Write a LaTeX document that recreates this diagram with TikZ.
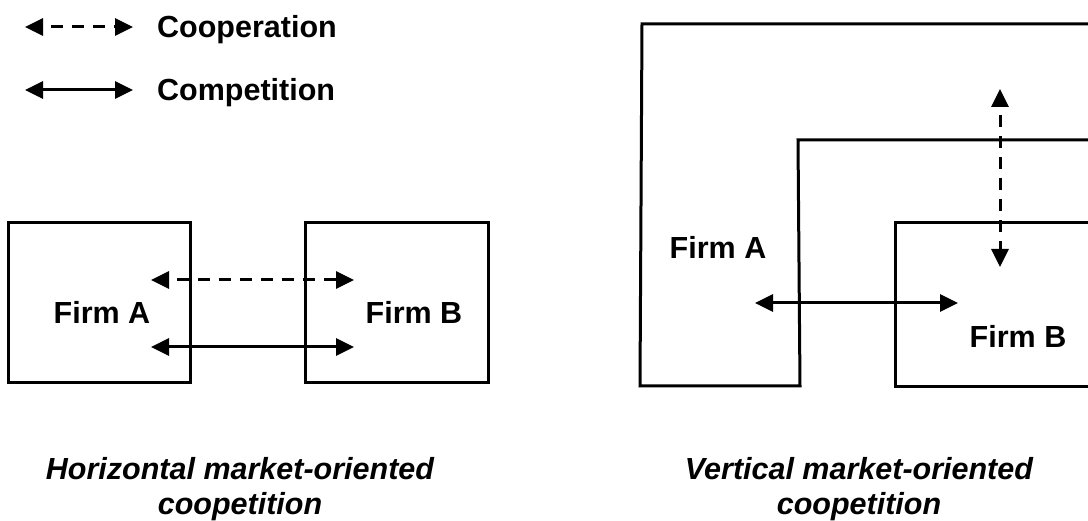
\documentclass[tikz,border=0pt]{standalone}
\usepackage{fontspec}
\setmainfont{Liberation Sans}
\usetikzlibrary{arrows.meta}
\begin{document}
\begin{tikzpicture}[x=1pt,y=-1pt,
  boxline/.style={line width=3pt, line join=miter},
  rel/.style={line width=3pt, {Triangle[length=18pt,width=17pt]}-{Triangle[length=18pt,width=17pt]}},
  coop/.style={rel, dash pattern=on 12pt off 9pt, dash phase=12pt},
  lbl/.style={font=\fontsize{30.5}{36}\selectfont\bfseries, inner sep=0pt},
  captext/.style={font=\fontsize{30.5}{36}\selectfont\bfseries\itshape, inner sep=0pt, anchor=base}]
\useasboundingbox (0,0) rectangle (1088,521);
\clip (0,0) rectangle (1088,521);

% legend
\coordinate (l1a) at (25,27);  \coordinate (l1b) at (133,27);
\coordinate (l2a) at (25,90);  \coordinate (l2b) at (133,90);
\draw[coop] (l1a) -- (l1b);
\draw[rel]  (l2a) -- (l2b);
\node[lbl, anchor=base west] (legcoop) at (157,38) {Cooperation};
\node[lbl, anchor=base west] (legcomp) at (157,101) {Competition};

% horizontal coopetition: two separate firms
\draw[boxline] (8,223) rectangle (190,383);
\draw[boxline] (305,223) rectangle (488,383);
\node[lbl] (hA) at (102,312) {Firm A};
\node[lbl] (hB) at (414,312) {Firm B};
\coordinate (hc1) at (151,280); \coordinate (hc2) at (354,280);
\coordinate (hk1) at (151,347); \coordinate (hk2) at (354,347);
\draw[coop] (hc1) -- (hc2);
\draw[rel]  (hk1) -- (hk2);
\node[captext] (capH1) at (240,479) {Horizontal market-oriented};
\node[captext] (capH2) at (240,514) {coopetition};

% vertical coopetition: nested firms
\draw[boxline] (1100,24) -- (642,24) -- (640,386) -- (800,386) -- (798,140) -- (1100,140);
\draw[boxline] (1100,223) -- (895,223) -- (895,387) -- (1100,387);
\node[lbl] (vA) at (718,247) {Firm A};
\node[lbl] (vB) at (1018,336) {Firm B};
\coordinate (vc1) at (1000,89);  \coordinate (vc2) at (1000,267);
\coordinate (vk1) at (755,303);  \coordinate (vk2) at (958,303);
\draw[coop] (vc1) -- (vc2);
\draw[rel]  (vk1) -- (vk2);
\node[captext] (capV1) at (859,479) {Vertical market-oriented};
\node[captext] (capV2) at (859,514) {coopetition};
\end{tikzpicture}
\end{document}
